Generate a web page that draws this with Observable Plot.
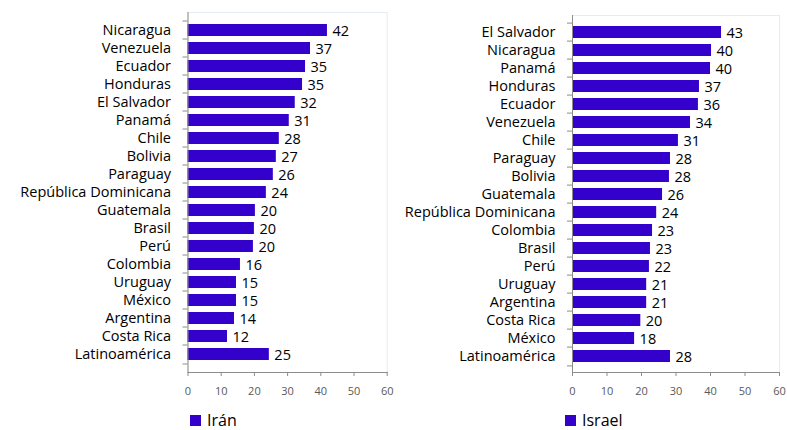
<!DOCTYPE html>
<html><head><meta charset="utf-8">
<script src="https://cdn.jsdelivr.net/npm/d3@7"></script>
<script src="https://cdn.jsdelivr.net/npm/@observablehq/plot@0.6"></script>
<style>
body{margin:0;background:#fff;font-family:"Open Sans",sans-serif;}
#wrap{position:relative;width:787px;height:430px;overflow:hidden;}
.panel{position:absolute;top:0;}
.legend{position:absolute;display:flex;align-items:center;font-size:16px;color:#000;line-height:16px;height:16px;}
.legend .sw{width:11px;height:11px;background:#3300cc;margin-right:6px;display:inline-block;}
</style></head><body>
<div id="wrap"></div>
<script>
const iranCountries = ["Nicaragua","Venezuela","Ecuador","Honduras","El Salvador","Panamá","Chile","Bolivia","Paraguay","República Dominicana","Guatemala","Brasil","Perú","Colombia","Uruguay","México","Argentina","Costa Rica","Latinoamérica"];
const iranValues = [42.0,36.9,35.4,34.5,32.3,30.5,27.5,26.6,25.7,23.6,20.3,20.0,19.7,15.8,14.6,14.6,14.0,11.9,24.5];
const iranLabels = ["42","37","35","35","32","31","28","27","26","24","20","20","20","16","15","15","14","12","25"];

const israelCountries = ["El Salvador","Nicaragua","Panamá","Honduras","Ecuador","Venezuela","Chile","Paraguay","Bolivia","Guatemala","República Dominicana","Colombia","Brasil","Perú","Uruguay","Argentina","Costa Rica","México","Latinoamérica"];
const israelValues = [43.2,40.3,40.0,36.8,36.5,34.2,30.7,28.4,28.1,26.1,24.4,23.2,22.6,22.3,21.5,21.5,19.8,18.0,28.4];
const israelLabels = ["43","40","40","37","36","34","31","28","28","26","24","23","23","22","21","21","20","18","28"];

const xTicks = [0,10,20,30,40,50,60];
const seriesNames = ["Irán","Israel"];

function panel({countries, values, labels, width, marginLeft, marginRight, marginTop}) {
  const data = countries.map((c,i)=>({c, v: values[i], l: labels[i]}));
  const height = 400, marginBottom = 28;
  const step = (height - marginTop - marginBottom) / countries.length;
  const plotW = width - marginLeft - marginRight;
  return Plot.plot({
    width, height, marginLeft, marginRight, marginTop, marginBottom,
    style: {fontFamily: "'Open Sans', sans-serif", background: "transparent", overflow: "visible"},
    x: {domain: [0, 60]},
    y: {domain: countries, padding: 0},
    marks: [
      Plot.frame({stroke: "#e2edf1"}),
      Plot.barX(data, {x: "v", y: "c", fill: "#3300cc", insetTop: 3, insetBottom: 3}),
      Plot.text(data, {x: "v", y: "c", text: "l", textAnchor: "start", dx: 5, dy: 1, fontSize: 14.5, fill: "#000"}),
      Plot.ruleX([0], {stroke: "#8c8c8c"}),
      Plot.frame({anchor: "bottom", stroke: "#8c8c8c"}),
      Plot.ruleY(countries, {y: d => d, dy: -step/2, insetLeft: -5, insetRight: plotW, stroke: "#8c8c8c"}),
      Plot.ruleY(countries.slice(-1), {y: d => d, dy: step/2, insetLeft: -5, insetRight: plotW, stroke: "#8c8c8c"}),
      Plot.axisY({tickSize: 0, tickPadding: 17, fontSize: 14.5, fill: "#000", label: null}),
      Plot.axisX({ticks: xTicks, tickSize: 4, stroke: "#8c8c8c", tickPadding: 11, fontSize: 11, fill: "#595959", label: null})
    ]
  });
}

const wrap = document.getElementById("wrap");
const specs = [
  {left: 0, width: 393, marginLeft: 187.5, marginRight: 6.3, marginTop: 12, countries: iranCountries, values: iranValues, labels: iranLabels, name: seriesNames[0], legendX: 190},
  {left: 393, width: 394, marginLeft: 179, marginRight: 8, marginTop: 15, countries: israelCountries, values: israelValues, labels: israelLabels, name: seriesNames[1], legendX: 565}
];
for (const s of specs) {
  const div = document.createElement("div");
  div.className = "panel";
  div.style.left = s.left + "px";
  div.appendChild(panel(s));
  wrap.appendChild(div);
  const lg = document.createElement("div");
  lg.className = "legend";
  lg.style.left = s.legendX + "px";
  lg.style.top = "412px";
  lg.innerHTML = `<span class="sw"></span><span>${s.name}</span>`;
  wrap.appendChild(lg);
}
</script>
</body></html>
